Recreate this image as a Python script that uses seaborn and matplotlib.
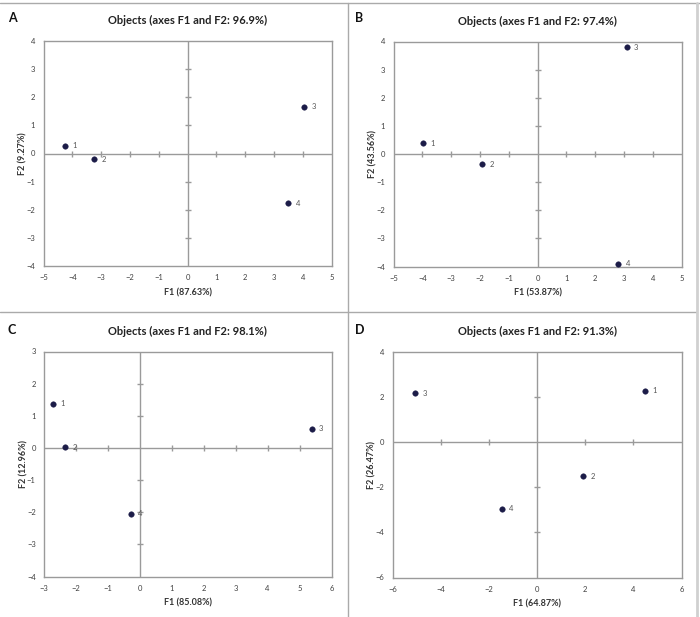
import matplotlib
matplotlib.use("Agg")
import matplotlib.pyplot as plt
import seaborn as sns
import pandas as pd
from matplotlib.lines import Line2D

sns.set_theme(style="white")
plt.rcParams['font.family'] = ['Lato', 'DejaVu Sans']

objects = ["1", "2", "3", "4"]

a_f1 = [-4.25, -3.24, 4.05, 3.50]
a_f2 = [0.28, -0.20, 1.67, -1.77]
b_f1 = [-3.96, -1.91, 3.10, 2.81]
b_f2 = [0.38, -0.36, 3.80, -3.90]
c_f1 = [-2.71, -2.34, 5.38, -0.28]
c_f2 = [1.37, 0.02, 0.59, -2.04]
d_f1 = [4.47, 1.91, -5.05, -1.47]
d_f2 = [2.26, -1.53, 2.15, -2.95]

panels = [
    dict(letter="A", title="Objects (axes F1 and F2: 96.9%)", xlabel="F1 (87.63%)", ylabel="F2 (9.27%)",
         f1=a_f1, f2=a_f2, xticks=list(range(-5, 6)), yticks=list(range(-4, 5)),
         rect=[43.5, 41, 331.5, 266]),
    dict(letter="B", title="Objects (axes F1 and F2: 97.4%)", xlabel="F1 (53.87%)", ylabel="F2 (43.56%)",
         f1=b_f1, f2=b_f2, xticks=list(range(-5, 6)), yticks=list(range(-4, 5)),
         rect=[393.5, 41.5, 681.5, 266.5]),
    dict(letter="C", title="Objects (axes F1 and F2: 98.1%)", xlabel="F1 (85.08%)", ylabel="F2 (12.96%)",
         f1=c_f1, f2=c_f2, xticks=list(range(-3, 7)), yticks=list(range(-4, 4)),
         rect=[44, 351.5, 331.5, 576.5]),
    dict(letter="D", title="Objects (axes F1 and F2: 91.3%)", xlabel="F1 (64.87%)", ylabel="F2 (26.47%)",
         f1=d_f1, f2=d_f2, xticks=list(range(-6, 7, 2)), yticks=list(range(-6, 5, 2)),
         rect=[392.5, 351.5, 681.5, 577.5]),
]

W, H = 700, 617
fig = plt.figure(figsize=(W / 100, H / 100), dpi=100)

line_col = "#9a9a9a"
pt_col = "#1c1c48"
txt_col = "#404040"

for p in panels:
    x0, y0, x1, y1 = p["rect"]
    ax = fig.add_axes([x0 / W, 1 - y1 / H, (x1 - x0) / W, (y1 - y0) / H])
    df = pd.DataFrame({"F1": p["f1"], "F2": p["f2"], "obj": objects})
    sns.scatterplot(data=df, x="F1", y="F2", ax=ax, color=pt_col, s=16,
                    edgecolor=pt_col, linewidth=0.3, zorder=5)
    xr = p["xticks"][-1] - p["xticks"][0]
    for _, r in df.iterrows():
        ax.text(r.F1 + xr * 0.025, r.F2, r.obj, fontsize=5.5, color="#555555",
                va="center", ha="left", zorder=6)
    ax.set_xlim(p["xticks"][0], p["xticks"][-1])
    ax.set_ylim(p["yticks"][0], p["yticks"][-1])
    ax.set_xticks(p["xticks"])
    ax.set_yticks(p["yticks"])
    ax.tick_params(axis="both", length=0, labelsize=5.5, labelcolor=txt_col, pad=6)
    ax.axhline(0, color=line_col, lw=1.0, zorder=1)
    ax.axvline(0, color=line_col, lw=1.0, zorder=1)
    xt = [t for t in p["xticks"][1:-1] if t != 0]
    yt = [t for t in p["yticks"][1:-1] if t != 0]
    ax.plot(xt, [0] * len(xt), ls="none", marker="|", ms=5, mew=1.0, color=line_col, zorder=1)
    ax.plot([0] * len(yt), yt, ls="none", marker="_", ms=5, mew=1.0, color=line_col, zorder=1)
    for s in ax.spines.values():
        s.set_visible(True)
        s.set_color(line_col)
        s.set_linewidth(1.0)
    ax.set_xlabel(p["xlabel"], fontsize=6.5, fontweight="bold", color="#333333", labelpad=5)
    ax.set_ylabel(p["ylabel"], fontsize=6.5, fontweight="bold", color="#333333", labelpad=-1)
    ax.set_title(p["title"], fontsize=8, fontweight="bold", color="#222222", pad=12)
    lx = 8 if x0 < 300 else 355
    ly = 18 if y0 < 300 else 330
    fig.text(lx / W, 1 - ly / H, p["letter"], fontsize=9, fontweight="bold", color="#111111",
             ha="left", va="center")

# panel separators
sep = "#aaaaaa"
fig.add_artist(Line2D([0, 1], [1 - 3 / H, 1 - 3 / H], color=sep, lw=1.0, transform=fig.transFigure))
fig.add_artist(Line2D([348 / W, 348 / W], [0, 1 - 3 / H], color=sep, lw=1.0, transform=fig.transFigure))
fig.add_artist(Line2D([0, 697 / W], [1 - 312 / H, 1 - 312 / H], color=sep, lw=1.0, transform=fig.transFigure))
fig.add_artist(Line2D([697 / W, 697 / W], [0, 1 - 3 / H], color="#d0d0d0", lw=2.0, transform=fig.transFigure))

fig.savefig("out.png", dpi=100)
